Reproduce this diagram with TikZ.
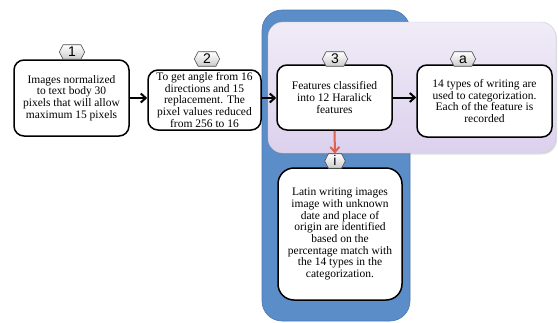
\documentclass[tikz,border=0pt]{standalone}
\usepackage{fontspec}
\setmainfont{Liberation Serif}
\newfontfamily\hexfont{Liberation Sans}
\usetikzlibrary{shapes.symbols,arrows.meta,shadows}
\definecolor{blueback}{HTML}{5B8DC9}
\definecolor{blueedge}{HTML}{4A79B3}
\definecolor{lavtop}{HTML}{F0ECF7}
\definecolor{lavbot}{HTML}{DCD1EE}
\definecolor{redarrow}{HTML}{E0604F}
\tikzset{
  stepbox/.style={draw=black, line width=1.5pt, fill=white, rounded corners=10pt,
    align=center, font=\fontsize{11.5}{11.7}\selectfont, inner sep=1pt},
  hexlabel/.style={shape=signal, signal to=east and west, signal pointer angle=125,
    draw=gray!60!black, line width=0.6pt, top color=white, bottom color=gray!40,
    inner xsep=5pt, inner ysep=2.5pt, text height=9.5pt, text depth=0pt,
    font=\hexfont\fontsize{14}{14}\selectfont},
  flow/.style={draw=black, line width=2pt, -{Straight Barb[length=5pt,width=9pt]}},
  redflow/.style={draw=redarrow, line width=2pt, -{Straight Barb[length=5pt,width=9pt]}}
}
\begin{document}
\begin{tikzpicture}[x=1pt,y=-1pt]
\useasboundingbox (0,0) rectangle (558,322);
% background panels
\fill[blueback, draw=blueedge, line width=0.6pt, rounded corners=20pt] (262,10) rectangle (410,321);
\shade[top color=lavtop, bottom color=lavbot, rounded corners=15pt, drop shadow={opacity=0.25,shadow xshift=1pt,shadow yshift=-1.5pt}]
  (268,22) rectangle (556,153);
\draw[gray!40, line width=0.4pt, rounded corners=15pt] (268,22) rectangle (556,153);
% boxes
\node[stepbox, minimum width=115pt, minimum height=76pt] (b1) at (71.5,98)
  {Images normalized\\to text body 30\\pixels that will allow\\maximum 15 pixels};
\node[stepbox, minimum width=113pt, minimum height=60pt] (b2) at (204.5,100)
  {To get angle from 16\\directions and 15\\replacement. The\\pixel values reduced\\from 256 to 16};
\node[stepbox, minimum width=115pt, minimum height=65pt] (b3) at (334.5,97.5)
  {Features classified\\into 12 Haralick\\features};
\node[stepbox, minimum width=135pt, minimum height=72pt] (ba) at (484.5,101)
  {14 types of writing are\\used to categorization.\\Each of the feature is\\recorded};
\node[stepbox, minimum width=124pt, minimum height=132pt, rounded corners=16pt] (bi) at (340,234)
  {Latin writing images\\image with unknown\\date and place of\\origin are identified\\based on the\\percentage match with\\the 14 types in the\\categorization.};
% hexagon labels
\node[hexlabel] (h1) at (72,52) {1};
\node[hexlabel] (h2) at (207,59) {2};
\node[hexlabel] (h3) at (335,59) {3};
\node[hexlabel] (ha) at (463,59) {a};
\node[hexlabel] (hi) at (335,161) {i};
% connectors
\draw[flow] (b1.east) -- (b2.west |- b1.east);
\draw[flow] (b2.east |- b1.east) -- (b3.west |- b1.east);
\draw[flow] (b3.east) -- (ba.west |- b3.east);
\draw[redflow] (b3.south) -- (hi.north);
\end{tikzpicture}
\end{document}
